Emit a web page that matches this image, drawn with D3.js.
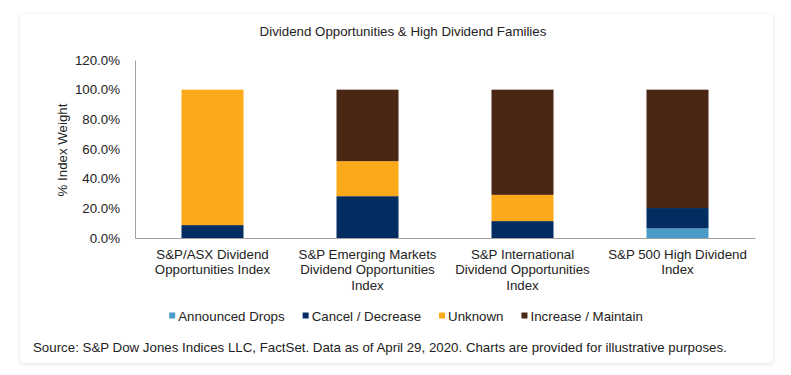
<!DOCTYPE html>
<html lang="en">
<head>
<meta charset="utf-8">
<title>Dividend Opportunities & High Dividend Families</title>
<style>
  body { margin: 0; background: #fff; font-family: "Liberation Sans", Arial, sans-serif; }
  .card {
    position: absolute; left: 20px; top: 14px; width: 753px; height: 349px;
    background: #fff; border-radius: 4px;
    box-shadow: 0 1px 4px rgba(0,0,0,0.13);
  }
  svg { position: absolute; left: 0; top: 0; }
  text { fill: #222; }
</style>
</head>
<body>
<div class="card"></div>
<script src="https://d3js.org/d3.v7.min.js"></script>
<script>
// data
const categories = [
  "S&P/ASX Dividend Opportunities Index",
  "S&P Emerging Markets Dividend Opportunities Index",
  "S&P International Dividend Opportunities Index",
  "S&P 500 High Dividend Index"
];
const categoryLines = [
  ["S&P/ASX Dividend", "Opportunities Index"],
  ["S&P Emerging Markets", "Dividend Opportunities", "Index"],
  ["S&P International", "Dividend Opportunities", "Index"],
  ["S&P 500 High Dividend", "Index"]
];
const seriesNames = ["Announced Drops", "Cancel / Decrease", "Unknown", "Increase / Maintain"];
const announcedDrops = [0, 0, 0, 6.5];
const cancelDecrease = [8.7, 28.2, 11.4, 13.7];
const unknown = [91.3, 23.6, 17.7, 0];
const increaseMaintain = [0, 48.2, 70.9, 79.8];
const yTicks = [0, 20, 40, 60, 80, 100, 120];
const colors = ["#4a9bc8", "#032d60", "#fcaa1b", "#4a2715"];

const W = 791, H = 375;
const plotLeft = 135, plotRight = 755, plotTop = 60, plotBottom = 238;
const fs = "13.3px";

const svg = d3.select("body").append("svg")
  .attr("width", W).attr("height", H);

const table = categories.map((c, i) => ({
  cat: c,
  "Announced Drops": announcedDrops[i],
  "Cancel / Decrease": cancelDecrease[i],
  "Unknown": unknown[i],
  "Increase / Maintain": increaseMaintain[i]
}));
const stacked = d3.stack().keys(seriesNames)(table);

const x = d3.scaleBand().domain(categories)
  .range([plotLeft, plotRight]).paddingInner(0.6).paddingOuter(0.3);
const y = d3.scaleLinear().domain([0, 120]).range([plotBottom, plotTop]);
const color = d3.scaleOrdinal().domain(seriesNames).range(colors);

// title
svg.append("text")
  .attr("x", 403).attr("y", 36)
  .attr("text-anchor", "middle")
  .style("font-size", fs)
  .text("Dividend Opportunities & High Dividend Families");

// bars
svg.append("g").selectAll("g")
  .data(stacked)
  .join("g")
  .attr("fill", d => color(d.key))
  .selectAll("rect")
  .data(d => d)
  .join("rect")
  .attr("x", d => x(d.data.cat))
  .attr("y", d => y(d[1]))
  .attr("width", x.bandwidth())
  .attr("height", d => y(d[0]) - y(d[1]));

// y axis
const yAxis = svg.append("g")
  .attr("transform", "translate(" + plotLeft + ",0)")
  .call(d3.axisLeft(y).tickValues(yTicks).tickSize(0).tickPadding(15)
    .tickFormat(d => d.toFixed(1) + "%"));
yAxis.select(".domain").attr("stroke", "#a0a0a0");
yAxis.selectAll("text")
  .style("font-family", "Liberation Sans, Arial, sans-serif")
  .style("font-size", fs).attr("fill", "#222");

// x axis
const xAxis = svg.append("g")
  .attr("transform", "translate(0," + plotBottom + ")")
  .call(d3.axisBottom(x).tickSize(0).tickFormat(""));
xAxis.select(".domain").attr("stroke", "#a0a0a0");

xAxis.selectAll(".tick").each(function(d, i) {
  const t = d3.select(this).select("text")
    .attr("y", 0).attr("dy", null)
    .style("font-family", "Liberation Sans, Arial, sans-serif")
    .style("font-size", fs).attr("fill", "#222");
  categoryLines[i].forEach((line, j) => {
    t.append("tspan").attr("x", 0).attr("y", 20.5 + j * 15.5).text(line);
  });
});

// y axis title
svg.append("text")
  .attr("transform", "translate(67,150) rotate(-90)")
  .attr("text-anchor", "middle")
  .style("font-size", fs)
  .text("% Index Weight");

// legend
const legend = svg.append("g");
const items = legend.selectAll("g").data(seriesNames).join("g");
items.append("rect").attr("width", 6).attr("height", 6).attr("y", -8)
  .attr("fill", d => color(d));
items.append("text").attr("x", 9).style("font-size", fs).text(d => d);
let lx = 0;
items.each(function() {
  const g = d3.select(this);
  g.attr("transform", "translate(" + lx + ",0)");
  lx += 9 + g.select("text").node().getComputedTextLength() + 18;
});
lx -= 18;
legend.attr("transform", "translate(" + (406 - lx / 2) + ",320.5)");

// source
svg.append("text")
  .attr("x", 33).attr("y", 351.5)
  .style("font-size", fs)
  .text("Source: S&P Dow Jones Indices LLC, FactSet. Data as of April 29, 2020. Charts are provided for illustrative purposes.");
</script>
</body>
</html>
